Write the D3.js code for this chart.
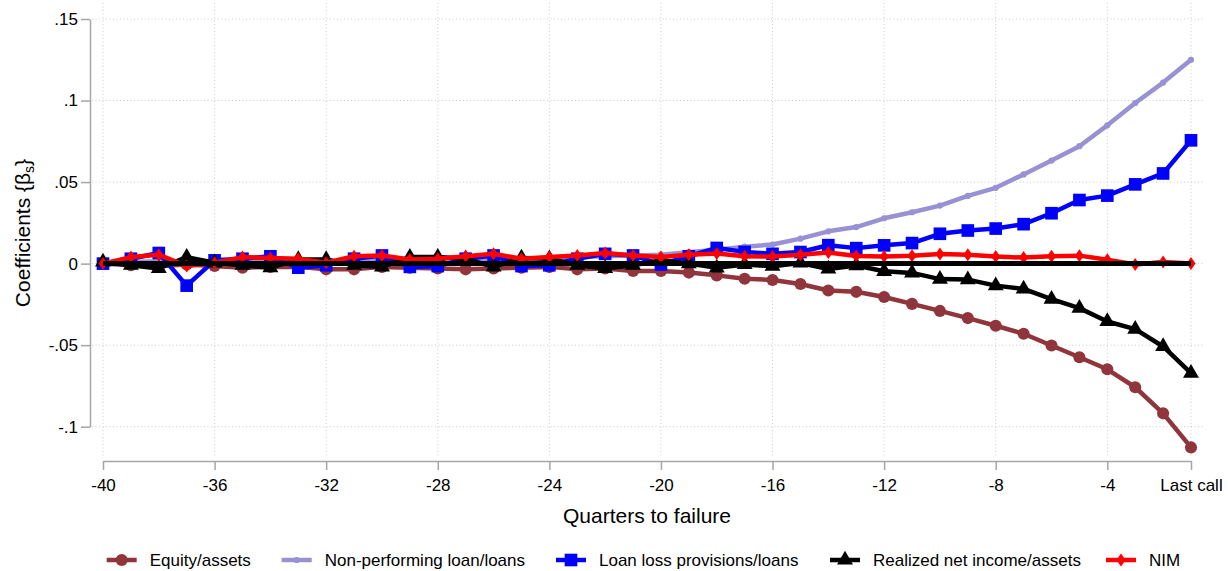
<html>

<head>
    <title>Coefficients before failure</title>
    <script src="https://cdnjs.cloudflare.com/ajax/libs/d3/7.8.5/d3.min.js"></script>

    <style type="text/css">
        body {
            margin: 0;
            background: #fff;
        }

        svg text {
            font-family: "Liberation Sans", Arial, sans-serif;
            fill: #000;
        }

        .axis path,
        .axis line {
            fill: none;
            stroke: #a6a6a6;
            stroke-width: 1.5;
        }

        .axis text {
            font-size: 17px;
        }

        .grid line {
            stroke: #cccccc;
            stroke-width: 1;
            stroke-dasharray: 1, 2.5;
        }
    </style>
</head>

<body>
    <div id="chart"></div>

    <script type="text/javascript">
        // quarters to failure (-1 = last call report)
        var quarters = [-40, -39, -38, -37, -36, -35, -34, -33, -32, -31,
            -30, -29, -28, -27, -26, -25, -24, -23, -22, -21,
            -20, -19, -18, -17, -16, -15, -14, -13, -12, -11,
            -10, -9, -8, -7, -6, -5, -4, -3, -2, -1];

        var equityAssets = [0, -0.001, -0.0015, -0.0005, -0.0015, -0.0025, -0.002, -0.002, -0.0035, -0.0035,
            -0.002, -0.0025, -0.003, -0.0035, -0.003, -0.0025, -0.002, -0.0035, -0.003, -0.0045,
            -0.0045, -0.0055, -0.0072, -0.0093, -0.0100, -0.0125, -0.0165, -0.0173, -0.0205, -0.0247,
            -0.029, -0.0334, -0.0381, -0.043, -0.0502, -0.0574, -0.0648, -0.0758, -0.0918, -0.1127];

        var nplLoans = [0, 0.001, 0.0015, 0.001, 0.001, 0.0015, 0.0015, 0.001, 0.0012, 0.0015,
            0.002, 0.002, 0.002, 0.0025, 0.003, 0.003, 0.0035, 0.004, 0.0045, 0.005,
            0.0055, 0.007, 0.0085, 0.0104, 0.0117, 0.0153, 0.0198, 0.0224, 0.0278, 0.0315,
            0.0356, 0.0415, 0.0465, 0.0547, 0.0632, 0.072, 0.0848, 0.0985, 0.111, 0.125];

        var llpLoans = [0, 0.003, 0.0065, -0.0135, 0.002, 0.003, 0.0045, -0.0025, -0.001, 0.003,
            0.005, -0.002, -0.0015, 0.003, 0.005, -0.0015, -0.001, 0.003, 0.006, 0.005,
            -0.0005, 0.0045, 0.0096, 0.0072, 0.006, 0.0071, 0.0113, 0.0095, 0.0112, 0.0126,
            0.0183, 0.0203, 0.0215, 0.0242, 0.0309, 0.039, 0.0417, 0.0486, 0.0553, 0.0756];

        var netIncomeAssets = [0.001, -0.001, -0.003, 0.004, 0.0005, -0.001, -0.0025, 0.0025, 0.0025, -0.001,
            -0.002, 0.004, 0.004, 0.003, -0.002, 0.0035, 0.003, -0.001, -0.003, -0.001,
            0.002, 0, -0.0026, -0.0005, -0.0016, 0.0004, -0.0033, -0.0012, -0.0047, -0.0057,
            -0.0095, -0.0098, -0.0135, -0.0155, -0.0218, -0.0273, -0.0355, -0.0402, -0.0508, -0.0672];

        var nim = [0, 0.004, 0.0055, -0.0015, 0.0005, 0.004, 0.0035, 0.003, 0.0005, 0.0045,
            0.005, 0.0025, 0.003, 0.0045, 0.006, 0.003, 0.004, 0.005, 0.0065, 0.005,
            0.004, 0.0055, 0.0062, 0.0045, 0.0044, 0.0055, 0.0068, 0.0047, 0.0043, 0.0049,
            0.0059, 0.0055, 0.0043, 0.0037, 0.0045, 0.0049, 0.0024, -0.0005, 0.001, 0];

        var seriesNames = ["Equity/assets", "Non-performing loan/loans", "Loan loss provisions/loans",
            "Realized net income/assets", "NIM"];

        var xTicks = [-40, -36, -32, -28, -24, -20, -16, -12, -8, -4, -1];
        var xTickLabels = ["-40", "-36", "-32", "-28", "-24", "-20", "-16", "-12", "-8", "-4", "Last call"];
        var yTicks = [-0.1, -0.05, 0, 0.05, 0.1, 0.15];
        var yTickLabels = ["-.1", "-.05", "0", ".05", ".1", ".15"];

        var w = 1228;
        var h = 571;

        var xScale = d3.scaleLinear()
            .domain([-40, -1])
            .range([103, 1191]);

        var yScale = d3.scaleLinear()
            .domain([-0.1, 0.15])
            .range([426.7, 19]);

        var svg = d3.select("#chart")
            .append("svg")
            .attr("width", w)
            .attr("height", h);

        // dotted grid
        var grid = svg.append("g").attr("class", "grid");
        grid.selectAll(".hgrid")
            .data(yTicks)
            .enter()
            .append("line")
            .attr("class", "hgrid")
            .attr("x1", 92)
            .attr("x2", 1205)
            .attr("y1", function (d) { return yScale(d); })
            .attr("y2", function (d) { return yScale(d); });
        grid.selectAll(".vgrid")
            .data(xTicks)
            .enter()
            .append("line")
            .attr("class", "vgrid")
            .attr("y1", 3)
            .attr("y2", 456)
            .attr("x1", function (d) { return xScale(d); })
            .attr("x2", function (d) { return xScale(d); });

        // axes
        var xAxis = d3.axisBottom(xScale)
            .tickValues(xTicks)
            .tickFormat(function (d, i) { return xTickLabels[i]; })
            .tickSize(9)
            .tickSizeOuter(0)
            .tickPadding(9);
        var yAxis = d3.axisLeft(yScale)
            .tickValues(yTicks)
            .tickFormat(function (d, i) { return yTickLabels[i]; })
            .tickSize(9)
            .tickSizeOuter(0)
            .tickPadding(3);

        svg.append("g")
            .attr("class", "x axis")
            .attr("transform", "translate(0," + 461 + ")")
            .call(xAxis);
        svg.append("g")
            .attr("class", "y axis")
            .attr("transform", "translate(" + 90 + ",0)")
            .call(yAxis);
        svg.selectAll(".axis text").attr("fill", "#000").style("font-family", "'Liberation Sans', Arial, sans-serif");

        // axis titles
        svg.append("text")
            .attr("x", 647)
            .attr("y", 523)
            .attr("text-anchor", "middle")
            .attr("font-size", "21px")
            .text("Quarters to failure");

        var yTitle = svg.append("text")
            .attr("transform", "translate(30,233) rotate(-90)")
            .attr("text-anchor", "middle")
            .attr("font-size", "21px");
        yTitle.append("tspan").text("Coefficients {\u03B2");
        yTitle.append("tspan").attr("font-size", "14px").attr("dy", 4).text("s");
        yTitle.append("tspan").attr("dy", -4).text("}");

        // marker shapes
        var diamondPath = "M0,-6.5L4.5,0L0,6.5L-4.5,0Z";
        var styles = [
            { data: equityAssets, color: "#90353b", width: 4.5, shape: d3.symbol().type(d3.symbolCircle).size(115)() },
            { data: nplLoans, color: "#9891d4", width: 4.5, shape: d3.symbol().type(d3.symbolCircle).size(30)() },
            { data: llpLoans, color: "#0000ff", width: 4.5, shape: d3.symbol().type(d3.symbolSquare).size(160)() },
            { data: netIncomeAssets, color: "#000000", width: 4.5, shape: d3.symbol().type(d3.symbolTriangle).size(110)() },
            { data: nim, color: "#ff0000", width: 4.5, shape: diamondPath }
        ];

        var line = d3.line()
            .x(function (d, i) { return xScale(quarters[i]); })
            .y(function (d) { return yScale(d); });

        function drawSeries(s) {
            var g = svg.append("g");
            g.append("path")
                .attr("d", line(s.data))
                .attr("fill", "none")
                .attr("stroke", s.color)
                .attr("stroke-width", s.width)
                .attr("stroke-linejoin", "round");
            g.selectAll("path.mk")
                .data(s.data)
                .enter()
                .append("path")
                .attr("class", "mk")
                .attr("d", s.shape)
                .attr("fill", s.color)
                .attr("transform", function (d, i) {
                    return "translate(" + xScale(quarters[i]) + "," + yScale(d) + ")";
                });
        }

        styles.forEach(drawSeries);

        // reference line at zero, drawn over the series
        svg.append("line")
            .attr("x1", xScale(-40))
            .attr("x2", xScale(-1))
            .attr("y1", yScale(0))
            .attr("y2", yScale(0))
            .attr("stroke", "#000")
            .attr("stroke-width", 5);

        // legend
        var legendKeyX = [106.7, 281.7, 556, 830, 1106];
        var legendY = 560;
        var legend = svg.append("g");
        styles.forEach(function (s, i) {
            var lg = legend.append("g").attr("transform", "translate(" + legendKeyX[i] + "," + legendY + ")");
            lg.append("line")
                .attr("x1", 0)
                .attr("x2", 30)
                .attr("stroke", s.color)
                .attr("stroke-width", s.width);
            lg.append("path")
                .attr("d", s.shape)
                .attr("fill", s.color)
                .attr("transform", "translate(15,0)");
            lg.append("text")
                .attr("x", 43)
                .attr("y", 6)
                .attr("font-size", "17px")
                .text(seriesNames[i]);
        });
    </script>

</body>

</html>
